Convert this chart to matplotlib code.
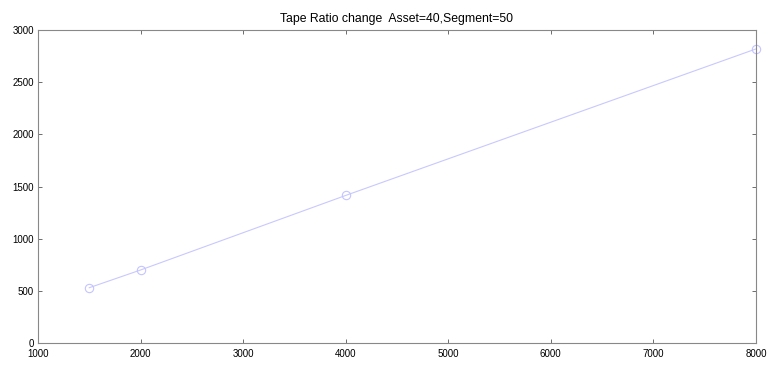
import matplotlib
matplotlib.use("Agg")
import matplotlib.pyplot as plt

x_vals = [1500, 2000, 4000, 8000]
y_vals = [530, 700, 1415, 2820]
x_ticks = [1000, 2000, 3000, 4000, 5000, 6000, 7000, 8000]
y_ticks = [0, 500, 1000, 1500, 2000, 2500, 3000]
title = "Tape Ratio change  Asset=40,Segment=50"

plt.rcParams['font.family'] = ['Liberation Sans', 'DejaVu Sans']

fig = plt.figure(figsize=(7.67, 3.65), dpi=100)
ax = fig.add_axes([0.0495, 0.0603, 0.936, 0.857])
ax.plot(x_vals, y_vals, color='#c8c8ff', linewidth=0.8, marker='o',
        markersize=6, markerfacecolor='none', markeredgecolor='#c4c4ff',
        markeredgewidth=0.8, clip_on=False)
ax.set_xlim(1000, 8000)
ax.set_ylim(0, 3000)
ax.set_xticks(x_ticks)
ax.set_yticks(y_ticks)
ax.tick_params(direction='in', length=3, width=0.6, color='#555555',
               labelsize=7, top=True, right=True, pad=3)
ax.tick_params(axis='x', pad=4.5)
for s in ax.spines.values():
    s.set_color('#888888')
    s.set_linewidth(0.8)
ax.set_title(title, fontsize=8.8, pad=6)
fig.savefig("out.png", dpi=100)
